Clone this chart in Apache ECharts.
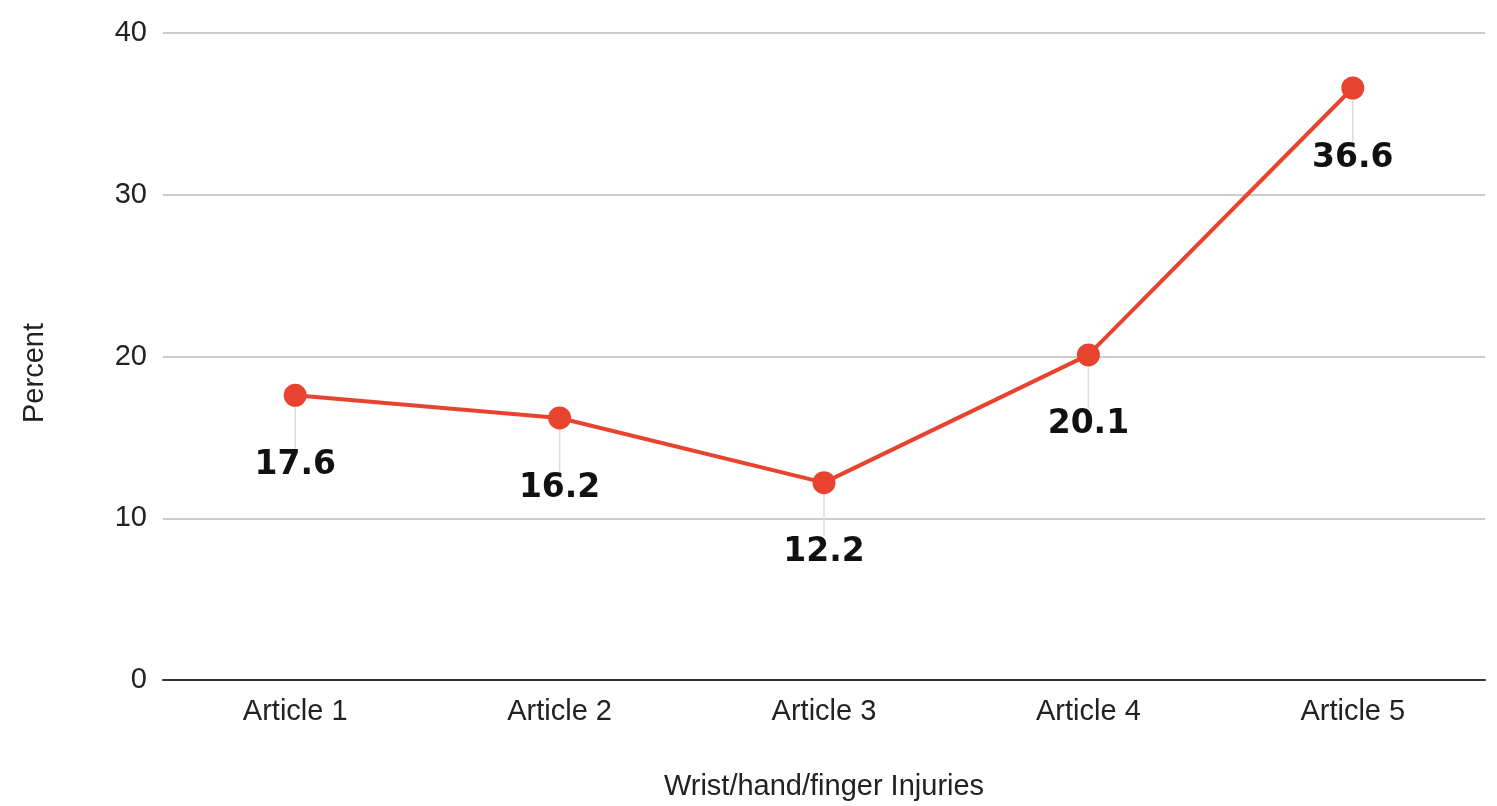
<!DOCTYPE html>
<html>
<head>
<meta charset="utf-8">
<script src="https://cdn.jsdelivr.net/npm/echarts@6/dist/echarts.min.js"></script>
<style>html,body{margin:0;padding:0;background:#fff;}#c{width:1497px;height:806px;}</style>
</head>
<body>
<div id="c"></div>
<script>
const categories = ['Article 1', 'Article 2', 'Article 3', 'Article 4', 'Article 5'];
const percentValues = [17.6, 16.2, 12.2, 20.1, 36.6];
const yTicks = { min: 0, max: 40, interval: 10 };
const xTitle = 'Wrist/hand/finger Injuries';
const yTitle = 'Percent';

const chart = echarts.init(document.getElementById('c'));
chart.setOption({
  animation: false,
  graphic: [{
    type: 'text',
    x: 35, y: 373,
    rotation: Math.PI / 2,
    style: {
      text: yTitle,
      fontFamily: 'Liberation Sans', fontSize: 29, fill: '#222',
      align: 'center', verticalAlign: 'middle'
    }
  }],
  grid: { left: 163, right: 12, top: 33, bottom: 125 },
  xAxis: {
    type: 'category',
    data: categories,
    boundaryGap: true,
    name: xTitle,
    nameLocation: 'middle',
    nameGap: 92,
    nameTextStyle: { fontFamily: 'Liberation Sans', fontSize: 29, color: '#222', verticalAlign: 'top' },
    axisLine: { lineStyle: { color: '#333', width: 2 } },
    axisTick: { show: false },
    axisLabel: { fontFamily: 'Liberation Sans', fontSize: 29, color: '#222', margin: 17 }
  },
  yAxis: {
    type: 'value',
    min: yTicks.min, max: yTicks.max, interval: yTicks.interval,
    axisLine: { show: false },
    axisTick: { show: false },
    splitLine: { lineStyle: { color: '#cccccc', width: 2 } },
    axisLabel: { fontFamily: 'Liberation Sans', fontSize: 29, color: '#222', margin: 16 }
  },
  series: [{
    type: 'line',
    data: percentValues,
    symbol: 'circle',
    symbolSize: 23,
    itemStyle: { color: '#e8432f' },
    lineStyle: { color: '#e8432f', width: 4 },
    label: {
      show: true,
      position: 'bottom',
      distance: 4,
      fontFamily: 'DejaVu Sans',
      fontWeight: 'bold',
      fontSize: 33,
      color: '#111'
    },
    labelLayout: { dy: 38 },
    labelLine: { show: true, lineStyle: { color: '#dddddd', width: 1.5 } }
  }]
});
</script>
</body>
</html>
